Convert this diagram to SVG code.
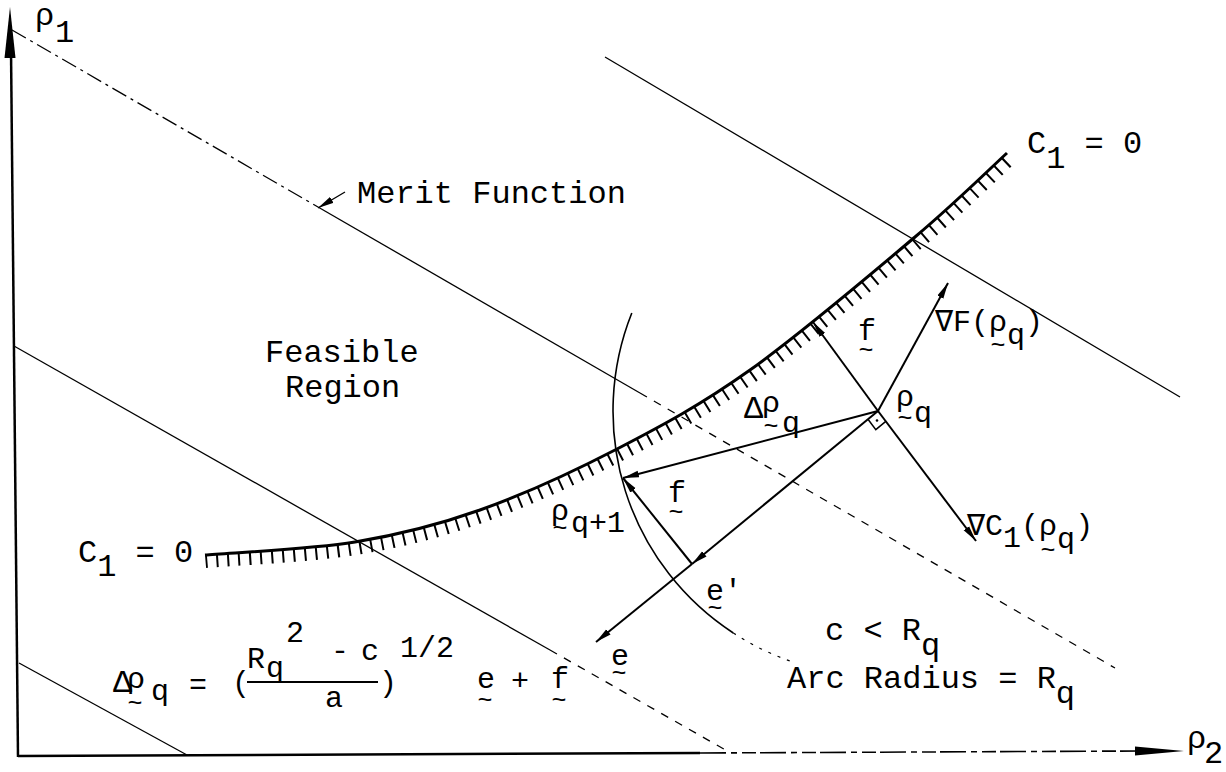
<svg xmlns="http://www.w3.org/2000/svg" width="1226" height="772" viewBox="0 0 1226 772">
<style>
.t{font-family:"Liberation Mono","DejaVu Sans Mono",monospace;font-size:32px;fill:#000}
.m{font-size:30px}
.tl{font-family:"Liberation Mono","DejaVu Sans Mono",monospace;font-size:25px;fill:#000;text-anchor:middle}
.ax{stroke:#000;stroke-width:2.5;fill:none}
.mf{stroke:#000;stroke-width:1.3;fill:none}
.vec{stroke:#000;stroke-width:2;fill:none;marker-end:url(#ah)}
</style>
<defs>
<marker id="ah" viewBox="0 0 16 8" refX="16" refY="4" markerWidth="16" markerHeight="8" markerUnits="userSpaceOnUse" orient="auto"><path d="M0,0.6 L16,4 L0,7.4 Z" fill="#000"/></marker>
<path id="c1" d="M205,555 C230,552.8 309.2,549.5 355,542 C400.8,534.5 436.3,525.5 480,510 C523.7,494.5 572,472.3 617,449 C662,425.7 700.3,405.3 750,370 C799.7,334.7 872.2,273.2 915,237 C957.8,200.8 991.7,167 1007,153"/>
<clipPath id="below"><path d="M205,555 C230,552.8 309.2,549.5 355,542 C400.8,534.5 436.3,525.5 480,510 C523.7,494.5 572,472.3 617,449 C662,425.7 700.3,405.3 750,370 C799.7,334.7 872.2,273.2 915,237 C957.8,200.8 991.7,167 1007,153 L1040,120 L1226,120 L1226,772 L180,772 L180,555 Z"/></clipPath>
</defs>
<rect width="1226" height="772" fill="#fff"/>

<g id="axes">
<line class="ax" x1="11" y1="50" x2="18" y2="757"/>
<polygon points="10,7 15.5,58 4.5,58" fill="#000"/>
<line class="ax" x1="18" y1="756" x2="700" y2="753"/>
<line x1="700" y1="753" x2="1140" y2="751" stroke="#000" stroke-width="1.6" stroke-dasharray="26 5 6 5 14 4"/>
<polygon points="1184,751 1135,746.5 1135,755.5" fill="#000"/>
<text class="t" x="35" y="25" font-size="28">ρ</text>
<text class="t" x="55" y="42" font-size="28">1</text>
<text class="t" x="1187" y="748" font-size="28">ρ</text>
<text class="t" x="1204" y="763" font-size="27">2</text>
</g>

<g id="merit-lines">
<line class="mf" x1="12" y1="30" x2="318" y2="207" stroke-dasharray="16 5 3 5"/>
<line class="mf" x1="318" y1="207" x2="640" y2="393"/>
<line class="mf" x1="640" y1="393" x2="1115" y2="668" stroke-dasharray="8 8" stroke-width="1"/>
<line class="mf" x1="605" y1="57" x2="1180" y2="397"/>
<line class="mf" x1="14" y1="346" x2="550" y2="650"/>
<line class="mf" x1="550" y1="650" x2="729" y2="752" stroke-dasharray="8 8" stroke-width="1"/>
<line class="mf" x1="19" y1="663" x2="187" y2="755"/>
</g>

<g id="constraint">
<use href="#c1" fill="none" stroke="#000" stroke-width="3"/>
<g clip-path="url(#below)"><use href="#c1" fill="none" stroke="#000" stroke-width="26" stroke-dasharray="2 9"/></g>
</g>

<g id="arc">
<path d="M631.8,313 A265,265 0 0,0 733.3,633" fill="none" stroke="#000" stroke-width="1.6"/>
<path d="M733.3,633 A265,265 0 0,0 790,661" fill="none" stroke="#000" stroke-width="1.2" stroke-dasharray="3 7"/>
</g>

<g id="connectors">
<line class="mf" x1="345" y1="192" x2="318" y2="208" stroke-width="2" marker-end="url(#ah)"/>
<line class="vec" x1="878" y1="411" x2="948" y2="283"/>
<line class="vec" x1="878" y1="411" x2="813" y2="322"/>
<line class="vec" x1="878" y1="411" x2="976" y2="541"/>
<line class="vec" x1="878" y1="411" x2="623" y2="478"/>
<line class="vec" x1="878" y1="411" x2="692" y2="564"/>
<line class="vec" x1="692" y1="564" x2="596" y2="642"/>
<line class="vec" x1="692" y1="564" x2="623" y2="478"/>
<polyline points="885.8,421.4 875.8,429.7 868,419.3" fill="none" stroke="#000" stroke-width="1.5"/>
<circle cx="877" cy="420.5" r="1.3" fill="#000"/>
</g>

<g id="label-merit"><text class="t" x="357" y="203">Merit Function</text></g>
<g id="label-feasible"><text class="t" x="265" y="362">Feasible</text><text class="t" x="285" y="397">Region</text></g>
<g id="label-c1-right"><text class="t" x="1027" y="153">C<tspan dy="15">1</tspan><tspan dy="-15"> = 0</tspan></text></g>
<g id="label-c1-left"><text class="t" x="78" y="562">C<tspan dy="14">1</tspan><tspan dy="-14"> = 0</tspan></text></g>
<g id="label-gradF"><text class="t m" x="935" y="331">∇F(ρ<tspan dy="13">q</tspan><tspan dy="-13">)</tspan></text><text class="tl" x="998" y="353">~</text></g>
<g id="label-gradC"><text class="t m" x="967" y="535">∇C<tspan dy="12">1</tspan><tspan dy="-12">(ρ</tspan><tspan dy="13">q</tspan><tspan dy="-13">)</tspan></text><text class="tl" x="1048" y="558">~</text></g>
<g id="label-rhoq"><text class="t m" x="896" y="406">ρ</text><text class="tl" x="905" y="426">~</text><text class="t m" x="914" y="422">q</text></g>
<g id="label-drho"><text class="t" x="744" y="418" font-size="24">Δ</text><text class="t m" x="762" y="412">ρ</text><text class="tl" x="771" y="434">~</text><text class="t m" x="782" y="432">q</text></g>
<g id="label-f-up"><text class="t m" x="858" y="340">f</text><text class="tl" x="866" y="358">~</text></g>
<g id="label-f-low"><text class="t m" x="668" y="502">f</text><text class="tl" x="676" y="520">~</text></g>
<g id="label-rhoq1"><text class="t m" x="551" y="520">ρ</text><text class="tl" x="560" y="536">~</text><text class="t m" x="571" y="532">q+1</text></g>
<g id="label-e"><text class="t m" x="611" y="665">e</text><text class="tl" x="619" y="681">~</text></g>
<g id="label-eprime"><text class="t m" x="706" y="600">e'</text><text class="tl" x="715" y="616">~</text></g>
<g id="label-c-less"><text class="t" x="825" y="640">c &lt; R<tspan dy="15">q</tspan></text></g>
<g id="label-arc"><text class="t" x="787" y="688">Arc Radius = R<tspan dy="15">q</tspan></text></g>

<g id="formula">
<text class="t" x="113" y="692" font-size="20">Δ</text>
<text class="t m" x="127" y="688">ρ</text><text class="tl" x="135" y="711">~</text>
<text class="t m" x="151" y="700">q</text>
<text class="t m" x="189" y="694">=</text>
<text class="t m" x="232" y="692">(</text>
<line x1="247" y1="682" x2="378" y2="682" stroke="#000" stroke-width="2"/>
<text class="t m" x="247" y="668">R</text>
<text class="t m" x="266" y="677">q</text>
<text class="t m" x="286" y="642">2</text>
<text class="t m" x="331" y="660">-</text>
<text class="t m" x="361" y="660">c</text>
<text class="t m" x="400" y="657">1/2</text>
<text class="t m" x="379" y="692">)</text>
<text class="t m" x="325" y="707">a</text>
<text class="t m" x="477" y="688">e</text><text class="tl" x="485" y="708">~</text>
<text class="t m" x="511" y="690">+</text>
<text class="t m" x="551" y="688">f</text><text class="tl" x="559" y="708">~</text>
</g>
</svg>
